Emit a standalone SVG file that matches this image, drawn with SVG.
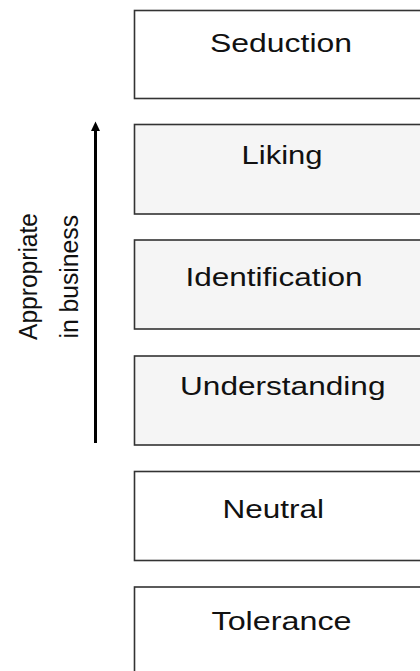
<svg xmlns="http://www.w3.org/2000/svg" width="420" height="671" viewBox="0 0 420 671">
  <style>
    .box { stroke: #333333; stroke-width: 1.6; }
    .white { fill: #ffffff; }
    .gray { fill: #f5f5f5; }
    .lbl { font-family: "Liberation Sans", Arial, sans-serif; font-size: 26px; fill: #111111; }
    .side { font-family: "Liberation Sans", Arial, sans-serif; font-size: 25px; fill: #111111; }
  </style>
  <rect x="0" y="0" width="420" height="671" fill="#ffffff"/>
  <g id="seduction">
    <rect class="box white" x="134.5" y="10.5" width="300" height="88"/>
    <text class="lbl" x="210" y="52" textLength="142" lengthAdjust="spacingAndGlyphs">Seduction</text>
  </g>
  <g id="liking">
    <rect class="box gray" x="134.5" y="124.5" width="300" height="89.5"/>
    <text class="lbl" x="241.5" y="163.5" textLength="81" lengthAdjust="spacingAndGlyphs">Liking</text>
  </g>
  <g id="identification">
    <rect class="box gray" x="134.5" y="240" width="300" height="89"/>
    <text class="lbl" x="185.5" y="285.7" textLength="177" lengthAdjust="spacingAndGlyphs">Identification</text>
  </g>
  <g id="understanding">
    <rect class="box gray" x="134.5" y="356" width="300" height="89"/>
    <text class="lbl" x="180" y="395" textLength="205.5" lengthAdjust="spacingAndGlyphs">Understanding</text>
  </g>
  <g id="neutral">
    <rect class="box white" x="134.5" y="471.5" width="300" height="89"/>
    <text class="lbl" x="222.5" y="518" textLength="101.5" lengthAdjust="spacingAndGlyphs">Neutral</text>
  </g>
  <g id="tolerance">
    <rect class="box white" x="134.5" y="587" width="300" height="100"/>
    <text class="lbl" x="211.5" y="629.5" textLength="140" lengthAdjust="spacingAndGlyphs">Tolerance</text>
  </g>
  <g id="connectors">
    <line x1="95.5" y1="130" x2="95.5" y2="443" stroke="#000000" stroke-width="3"/>
    <polygon points="95.5,121.5 91,131 100,131" fill="#000000"/>
  </g>
  <g id="side-label">
    <text class="side" transform="translate(37,340) rotate(-90)" textLength="127" lengthAdjust="spacingAndGlyphs">Appropriate</text>
    <text class="side" transform="translate(78,338.5) rotate(-90)" textLength="123.5" lengthAdjust="spacingAndGlyphs">in business</text>
  </g>
</svg>
